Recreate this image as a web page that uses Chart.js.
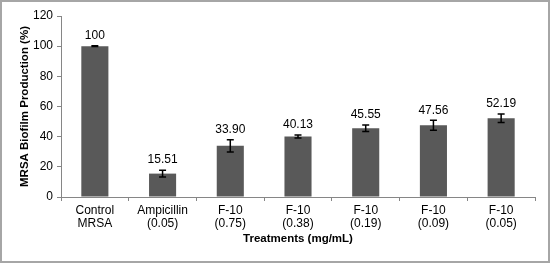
<!DOCTYPE html>
<html>
<head>
<meta charset="utf-8">
<script src="https://cdn.jsdelivr.net/npm/chart.js@4"></script>
<style>
  html, body { margin: 0; padding: 0; background: #fff; }
  #wrap { width: 550px; height: 263px; position: relative; }
</style>
</head>
<body>
<div id="wrap"><canvas id="chart" width="550" height="263"></canvas></div>
<script>
// data
const categories = [
    ['Control', 'MRSA'],
    ['Ampicillin', '(0.05)'],
    ['F-10', '(0.75)'],
    ['F-10', '(0.38)'],
    ['F-10', '(0.19)'],
    ['F-10', '(0.09)'],
    ['F-10', '(0.05)']
];
const biofilm = [100, 15.51, 33.90, 40.13, 45.55, 47.56, 52.19];
const valueLabels = ['100', '15.51', '33.90', '40.13', '45.55', '47.56', '52.19'];
const errors = [0.3, 2.3, 4.1, 1.0, 2.2, 3.3, 2.8];
const yTicks = [0, 20, 40, 60, 80, 100, 120];

const axisColor = '#868686';
const fontFamily = '"Liberation Sans", Arial, sans-serif';

// outer frame of the figure
const framePlugin = {
    id: 'frame',
    beforeDraw(chart) {
        const ctx = chart.ctx;
        ctx.save();
        ctx.fillStyle = '#fff';
        ctx.fillRect(0, 0, chart.width, chart.height);
        ctx.strokeStyle = '#a6a6a6';
        ctx.lineWidth = 2;
        ctx.strokeRect(1, 1, chart.width - 2, chart.height - 2);
        ctx.restore();
    }
};

// error bars + numbers above bars
const errorBarPlugin = {
    id: 'errorBars',
    afterDatasetsDraw(chart) {
        const ctx = chart.ctx;
        const y = chart.scales.y;
        const meta = chart.getDatasetMeta(0);
        ctx.save();
        meta.data.forEach((bar, i) => {
            const x = bar.x;
            const top = y.getPixelForValue(biofilm[i] + errors[i]);
            const bottom = y.getPixelForValue(biofilm[i] - errors[i]);
            ctx.strokeStyle = '#000';
            ctx.lineWidth = 1.5;
            ctx.beginPath();
            ctx.moveTo(x, top);
            ctx.lineTo(x, bottom);
            ctx.moveTo(x - 3.5, top);
            ctx.lineTo(x + 3.5, top);
            ctx.moveTo(x - 3.5, bottom);
            ctx.lineTo(x + 3.5, bottom);
            ctx.stroke();

            ctx.fillStyle = '#000';
            ctx.font = '12px ' + fontFamily;
            ctx.textAlign = 'center';
            ctx.textBaseline = 'bottom';
            ctx.fillText(valueLabels[i], x, top - 4);
        });
        ctx.restore();
    }
};

const ctx = document.getElementById('chart').getContext('2d');
new Chart(ctx, {
    type: 'bar',
    data: {
        labels: categories,
        datasets: [{
            data: biofilm,
            backgroundColor: '#595959',
            borderWidth: 0,
            barPercentage: 0.4,
            categoryPercentage: 1.0
        }]
    },
    options: {
        responsive: false,
        animation: false,
        devicePixelRatio: 1,
        layout: {
            padding: { top: 16, right: 15, bottom: 17, left: 18 }
        },
        plugins: {
            legend: { display: false },
            tooltip: { enabled: false }
        },
        scales: {
            x: {
                grid: {
                    display: true,
                    drawOnChartArea: false,
                    offset: true,
                    color: axisColor,
                    tickLength: 4,
                    tickColor: axisColor
                },
                border: { color: axisColor, width: 1 },
                ticks: {
                    color: '#000',
                    font: { family: fontFamily, size: 12, lineHeight: 1.1 },
                    maxRotation: 0,
                    autoSkip: false,
                    padding: 3
                },
                title: {
                    display: true,
                    text: 'Treatments (mg/mL)',
                    color: '#000',
                    font: { family: fontFamily, size: 11.5, weight: 'bold' },
                    padding: { top: 2, bottom: 0 }
                },
                afterFit(scale) { scale.height = 49; }
            },
            y: {
                min: 0,
                max: 120,
                afterBuildTicks(scale) {
                    scale.ticks = yTicks.map(v => ({ value: v }));
                },
                grid: {
                    display: true,
                    drawOnChartArea: false,
                    color: axisColor,
                    tickLength: 4,
                    tickColor: axisColor
                },
                border: { color: axisColor, width: 1 },
                ticks: {
                    color: '#000',
                    font: { family: fontFamily, size: 12 },
                    padding: 4
                },
                title: {
                    display: true,
                    text: 'MRSA Biofilm Production (%)',
                    color: '#000',
                    font: { family: fontFamily, size: 11.5, weight: 'bold' },
                    padding: { top: 0, bottom: 4 }
                },
                afterFit(scale) { scale.width = 43; }
            }
        }
    },
    plugins: [framePlugin, errorBarPlugin]
});
</script>
</body>
</html>
